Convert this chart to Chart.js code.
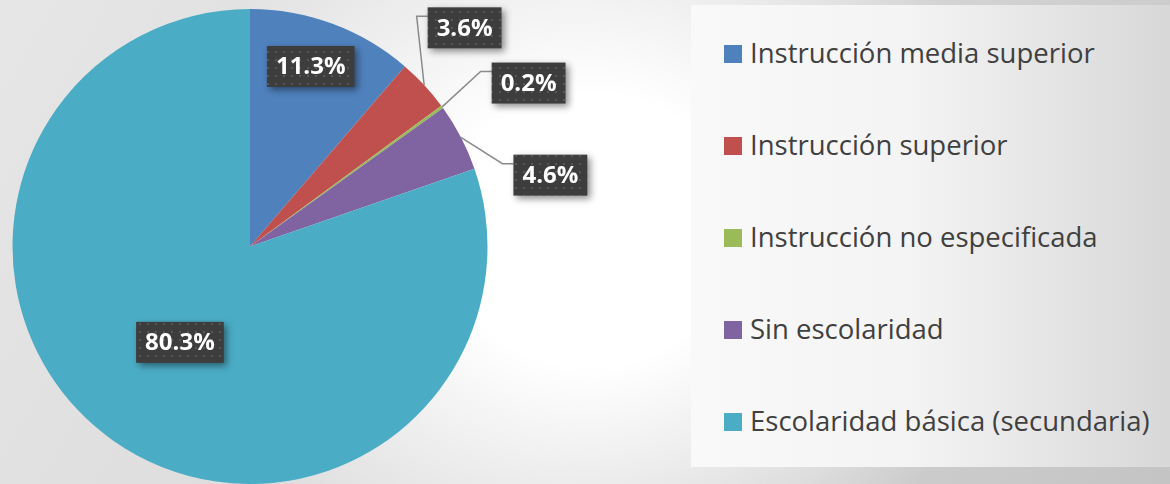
<!DOCTYPE html>
<html lang="es">
<head>
    <meta charset="UTF-8">
    <title>Escolaridad</title>
    <script src="https://cdn.jsdelivr.net/npm/chart.js"></script>
    <style>
        body {
            margin: 0;
            width: 1170px;
            height: 484px;
            overflow: hidden;
            font-family: 'Open Sans', sans-serif;
            background:
                radial-gradient(ellipse 430px 390px at 590px 230px, rgba(255,255,255,1) 35%, rgba(255,255,255,0) 100%),
                linear-gradient(120deg, #e6e6e6 0%, #dadada 50%, #c4c4c4 100%);
        }

        #wrap {
            position: relative;
            width: 1170px;
            height: 484px;
        }

        #legendBox {
            position: absolute;
            left: 691px;
            top: 5px;
            width: 479px;
            height: 462px;
            background: linear-gradient(to right, #f9f9f9 0%, #f4f4f4 45%, #d8d8d8 100%);
        }

        #legendBox ul {
            list-style: none;
            margin: 0;
            padding: 1px 0 0 33px;
        }

        #legendBox li {
            height: 92px;
            display: flex;
            align-items: center;
            font-size: 27.5px;
            color: #404040;
        }

        #legendBox li span.box {
            width: 18px;
            height: 18px;
            margin-right: 8px;
            margin-top: 4px;
            flex: none;
        }

        #chartBox {
            position: absolute;
            left: 0;
            top: 0;
            width: 1170px;
            height: 484px;
        }
    </style>
</head>
<body>
    <div id="wrap">
        <div id="legendBox"><ul id="legendList"></ul></div>
        <div id="chartBox"><canvas id="pieChart"></canvas></div>
    </div>

    <script>
        const categories = [
            'Instrucción media superior',
            'Instrucción superior',
            'Instrucción no especificada',
            'Sin escolaridad',
            'Escolaridad básica (secundaria)'
        ];
        const shares = [11.3, 3.6, 0.2, 4.6, 80.3];
        const sliceColors = ['#4f81bd', '#c0504d', '#9bbb59', '#8064a2', '#4bacc6'];

        // where each label box sits: fraction of radius from centre, and angle shift in degrees
        const labelSpots = [
            { dist: 0.80, shift: -1.7 },
            { dist: 1.29, shift: -2.7 },
            { dist: 1.36, shift: 5.6 },
            { dist: 1.30, shift: 14 },
            { dist: 0.50, shift: 0.7 }
        ];

        // dark dotted fill of the label boxes
        function makePattern(ctx) {
            const c = document.createElement('canvas');
            c.width = 8;
            c.height = 8;
            const g = c.getContext('2d');
            g.fillStyle = '#3d3d3d';
            g.fillRect(0, 0, 8, 8);
            g.fillStyle = '#575757';
            g.fillRect(3, 3, 2, 2);
            return ctx.createPattern(c, 'repeat');
        }

        const pieLabels = {
            id: 'pieLabels',
            afterDatasetsDraw(chart) {
                const ctx = chart.ctx;
                const meta = chart.getDatasetMeta(0);
                const values = chart.data.datasets[0].data;
                const pattern = makePattern(ctx);
                ctx.save();
                ctx.font = 'bold 24px "Open Sans"';
                meta.data.forEach((arc, i) => {
                    const p = arc.getProps(['x', 'y', 'startAngle', 'endAngle', 'outerRadius'], true);
                    const mid = (p.startAngle + p.endAngle) / 2;
                    const spot = labelSpots[i];
                    const ang = mid + spot.shift * Math.PI / 180;
                    const cx = p.x + Math.cos(ang) * p.outerRadius * spot.dist;
                    const cy = p.y + Math.sin(ang) * p.outerRadius * spot.dist;
                    const text = values[i].toFixed(1) + '%';
                    const w = ctx.measureText(text).width + 18;
                    const h = 41;
                    const left = cx - w / 2;
                    const top = cy - h / 2;

                    if (spot.dist > 1) {
                        ctx.beginPath();
                        ctx.moveTo(p.x + Math.cos(mid) * p.outerRadius, p.y + Math.sin(mid) * p.outerRadius);
                        ctx.lineTo(left - 11, top + 9);
                        ctx.lineTo(left, top + 9);
                        ctx.strokeStyle = '#8a8a8a';
                        ctx.lineWidth = 1.5;
                        ctx.stroke();
                    }

                    ctx.save();
                    ctx.shadowColor = 'rgba(0, 0, 0, 0.45)';
                    ctx.shadowBlur = 7;
                    ctx.shadowOffsetX = 3;
                    ctx.shadowOffsetY = 3;
                    ctx.fillStyle = pattern;
                    ctx.fillRect(left, top, w, h);
                    ctx.restore();

                    ctx.fillStyle = '#ffffff';
                    ctx.textAlign = 'center';
                    ctx.textBaseline = 'middle';
                    ctx.fillText(text, cx, cy + 1);
                });
                ctx.restore();
            }
        };

        const htmlLegend = {
            id: 'htmlLegend',
            afterUpdate(chart) {
                const list = document.getElementById('legendList');
                list.innerHTML = '';
                const items = chart.options.plugins.legend.labels.generateLabels(chart);
                items.forEach(item => {
                    const li = document.createElement('li');
                    const box = document.createElement('span');
                    box.className = 'box';
                    box.style.background = item.fillStyle;
                    li.appendChild(box);
                    li.appendChild(document.createTextNode(item.text));
                    list.appendChild(li);
                });
            }
        };

        const ctx = document.getElementById('pieChart').getContext('2d');
        new Chart(ctx, {
            type: 'pie',
            data: {
                labels: categories,
                datasets: [{
                    data: shares,
                    backgroundColor: sliceColors,
                    borderWidth: 0
                }]
            },
            options: {
                responsive: true,
                maintainAspectRatio: false,
                animation: false,
                layout: {
                    padding: { left: 12, top: 9, right: 682, bottom: 0 }
                },
                plugins: {
                    legend: { display: false },
                    tooltip: { enabled: false }
                }
            },
            plugins: [pieLabels, htmlLegend]
        });
    </script>
</body>
</html>
